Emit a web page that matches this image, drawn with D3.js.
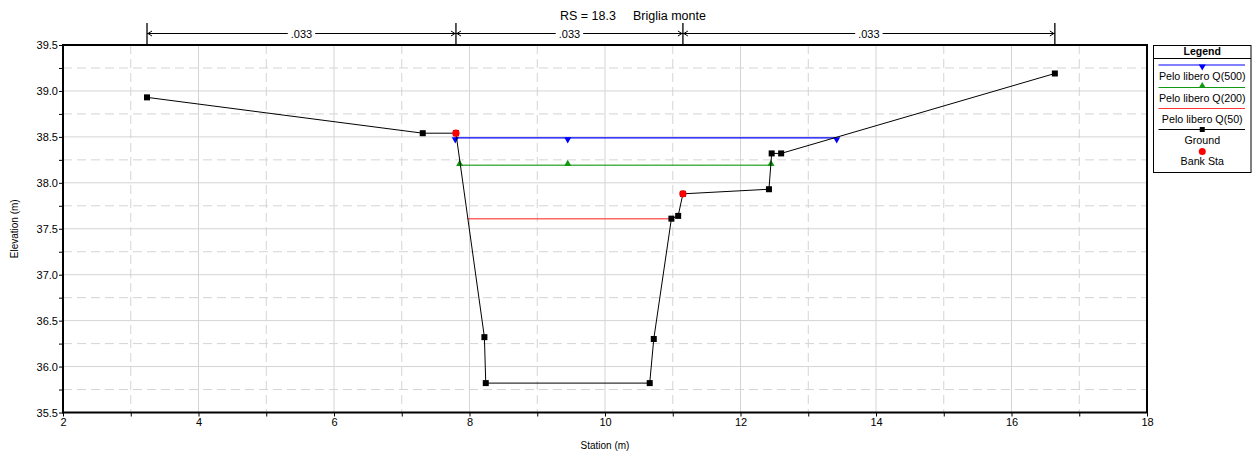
<!DOCTYPE html>
<html><head><meta charset="utf-8">
<script src="https://cdn.jsdelivr.net/npm/d3@7"></script>
<style>
body{margin:0;background:#fff;}
text{font-family:"Liberation Sans",Arial,sans-serif;fill:#000;}
</style></head>
<body><svg id="c" width="1258" height="458"></svg>
<script>
// ---- data ----
const titleParts = ["RS = 18.3", "Briglia monte"];
const groundSta  = [3.24, 7.31, 7.80, 8.22, 8.24, 10.66, 10.72, 10.98, 11.08, 11.15, 12.42, 12.46, 12.60, 16.64];
const groundElev = [38.93, 38.54, 38.54, 36.32, 35.82, 35.82, 36.30, 37.61, 37.64, 37.88, 37.93, 38.32, 38.32, 39.19];
const bankSta  = [7.80, 11.15];
const bankElev = [38.54, 37.88];
const wsNames = ["Pelo libero Q(500)", "Pelo libero Q(200)", "Pelo libero Q(50)"];
const wsElev  = [38.49, 38.19, 37.61];
const wsLeft  = [7.79, 7.855, 7.97];
const wsRight = [13.42, 12.45, 10.98];
const wsMarkSta = [[7.79, 9.45, 13.42], [7.855, 9.45, 12.45], []];
const manningSta = [3.24, 7.80, 11.15, 16.64];
const manningN = [".033", ".033", ".033"];
const xTicks = [2, 4, 6, 8, 10, 12, 14, 16, 18];
const yTicks = [35.5, 36.0, 36.5, 37.0, 37.5, 38.0, 38.5, 39.0, 39.5];

// ---- layout ----
const svg = d3.select("#c");
const L = 63, R = 1147, T = 45, B = 412.5;
const x = d3.scaleLinear().domain([2, 18]).range([L, R]);
const y = d3.scaleLinear().domain([35.5, 39.5]).range([B, T]);
const gridC = "#d4d4d4";

// grid
const g = svg.append("g");
d3.range(3, 18, 2).forEach(v => g.append("line").attr("x1", x(v)).attr("x2", x(v)).attr("y1", T).attr("y2", B)
  .attr("stroke", gridC).attr("stroke-width", 1).attr("stroke-dasharray", "9,5"));
d3.range(35.75, 39.5, 0.5).forEach(v => g.append("line").attr("x1", L).attr("x2", R).attr("y1", y(v)).attr("y2", y(v))
  .attr("stroke", gridC).attr("stroke-width", 1).attr("stroke-dasharray", "9,5"));
xTicks.slice(1, -1).forEach(v => g.append("line").attr("x1", x(v)).attr("x2", x(v)).attr("y1", T).attr("y2", B)
  .attr("stroke", gridC).attr("stroke-width", 1));
yTicks.slice(1, -1).forEach(v => g.append("line").attr("x1", L).attr("x2", R).attr("y1", y(v)).attr("y2", y(v))
  .attr("stroke", gridC).attr("stroke-width", 1));

// axes
const xAx = d3.axisBottom(x).tickValues(xTicks).tickFormat(d3.format("d")).tickSize(4).tickPadding(2);
const xAxMinor = d3.axisBottom(x).tickValues(d3.range(3, 18, 2)).tickFormat("").tickSize(4);
const yAx = d3.axisLeft(y).tickValues(yTicks).tickFormat(d3.format(".1f")).tickSize(4).tickPadding(1);
const yAxMinor = d3.axisLeft(y).tickValues(d3.range(35.75, 39.5, 0.5)).tickFormat("").tickSize(4);
[[xAx, "x"], [xAxMinor, "x"], [yAx, "y"], [yAxMinor, "y"]].forEach(([a, t]) => {
  const ax = svg.append("g").attr("transform", t === "x" ? `translate(0,${B})` : `translate(${L},0)`).call(a);
  ax.select(".domain").remove();
  ax.selectAll("text").attr("font-size", 11).attr("font-family", "Liberation Sans, Arial, sans-serif").attr("fill", "#000");
  ax.selectAll("line").attr("stroke", "#000");
});
svg.append("rect").attr("x", L).attr("y", T).attr("width", R - L).attr("height", B - T)
  .attr("fill", "none").attr("stroke", "#000").attr("stroke-width", 2);

svg.append("text").attr("x", (L + R) / 2).attr("y", 449).attr("text-anchor", "middle").attr("font-size", 10).text("Station (m)");
svg.append("text").attr("transform", `translate(18,${(T + B) / 2}) rotate(-90)`).attr("text-anchor", "middle").attr("font-size", 10).text("Elevation (m)");
svg.append("text").attr("x", 560).attr("y", 20).attr("font-size", 12.5).text(titleParts[0]);
svg.append("text").attr("x", 633).attr("y", 20).attr("font-size", 12.5).text(titleParts[1]);

// manning's n
const mY = 33.5;
const mg = svg.append("g").attr("stroke", "#000").attr("fill", "none").attr("stroke-width", 1);
manningSta.forEach(s => mg.append("line").attr("x1", x(s)).attr("x2", x(s)).attr("y1", 23).attr("y2", T).attr("stroke-width", 1.3));
manningN.forEach((n, i) => {
  const a = x(manningSta[i]), b = x(manningSta[i + 1]), m = (a + b) / 2;
  const tx = svg.append("text").attr("x", m).attr("y", mY + 4).attr("text-anchor", "middle").attr("font-size", 11).text(n);
  const w = tx.node().getComputedTextLength() / 2 + 3;
  mg.append("line").attr("x1", a).attr("x2", m - w).attr("y1", mY).attr("y2", mY);
  mg.append("line").attr("x1", m + w).attr("x2", b).attr("y1", mY).attr("y2", mY);
  mg.append("path").attr("d", `M${a + 5},${mY - 2.5}L${a + 1},${mY}L${a + 5},${mY + 2.5}`);
  mg.append("path").attr("d", `M${b - 5},${mY - 2.5}L${b - 1},${mY}L${b - 5},${mY + 2.5}`);
});

// water surfaces
const wsColors = ["#0000ff", "#119911", "#ff3333"];
const tri = d3.symbol().type(d3.symbolTriangle).size(22);
wsNames.forEach((n, i) => {
  svg.append("line").attr("x1", x(wsLeft[i])).attr("x2", x(wsRight[i])).attr("y1", y(wsElev[i])).attr("y2", y(wsElev[i]))
    .attr("stroke", wsColors[i]).attr("stroke-width", i === 0 ? 1.2 : 1.5).attr("stroke-opacity", i === 0 ? 1 : 0.75);
});
wsMarkSta.forEach((arr, i) => arr.forEach(s => svg.append("path").attr("d", tri)
  .attr("transform", `translate(${x(s)},${y(wsElev[i]) + (i === 0 ? 1.5 : -1.5)}) rotate(${i === 0 ? 180 : 0})`)
  .attr("fill", wsColors[i])));

// ground
const gpts = groundSta.map((s, i) => [s, groundElev[i]]);
svg.append("path").datum(gpts).attr("d", d3.line().x(d => x(d[0])).y(d => y(d[1])))
  .attr("fill", "none").attr("stroke", "#000").attr("stroke-width", 1);
svg.selectAll(".gp").data(gpts).enter().append("rect")
  .attr("x", d => x(d[0]) - 3).attr("y", d => y(d[1]) - 3).attr("width", 6).attr("height", 6).attr("fill", "#000");
bankSta.forEach((s, i) => svg.append("circle").attr("cx", x(s)).attr("cy", y(bankElev[i])).attr("r", 3.6).attr("fill", "#ff0000"));

// legend
const lg = svg.append("g");
const lx = 1153.5, lw = 97.5, ly = 45.5, lh = 127;
lg.append("rect").attr("x", lx).attr("y", ly).attr("width", lw).attr("height", lh).attr("fill", "#fff").attr("stroke", "#000").attr("stroke-width", 1);
lg.append("line").attr("x1", lx).attr("x2", lx + lw).attr("y1", 58.5).attr("y2", 58.5).attr("stroke", "#000");
lg.append("text").attr("x", lx + lw / 2).attr("y", 55).attr("text-anchor", "middle").attr("font-size", 10.5).attr("font-weight", "bold").text("Legend");
const lcx = lx + lw / 2;
const entries = [
  {name: wsNames[0], c: wsColors[0], ly: 65, ty: 80, m: "tdown"},
  {name: wsNames[1], c: wsColors[1], ly: 87.5, ty: 101.5, m: "tup"},
  {name: wsNames[2], c: wsColors[2], ly: 108.5, ty: 122.5, m: null},
  {name: "Ground", c: "#000", ly: 129.5, ty: 143.5, m: "sq"},
];
entries.forEach(e => {
  lg.append("line").attr("x1", lx + 5).attr("x2", lx + lw - 6).attr("y1", e.ly).attr("y2", e.ly).attr("stroke", e.c).attr("stroke-width", 1.2);
  if (e.m === "tdown") lg.append("path").attr("d", tri).attr("transform", `translate(${lcx},${e.ly + 1.5}) rotate(180)`).attr("fill", e.c);
  if (e.m === "tup") lg.append("path").attr("d", tri).attr("transform", `translate(${lcx},${e.ly - 1.5})`).attr("fill", e.c);
  if (e.m === "sq") lg.append("rect").attr("x", lcx - 2.5).attr("y", e.ly - 2.5).attr("width", 5).attr("height", 5).attr("fill", "#000");
  lg.append("text").attr("x", lcx).attr("y", e.ty).attr("text-anchor", "middle").attr("font-size", 10.7).text(e.name);
});
lg.append("circle").attr("cx", lcx).attr("cy", 151.5).attr("r", 3.5).attr("fill", "#ff0000");
lg.append("text").attr("x", lcx).attr("y", 165).attr("text-anchor", "middle").attr("font-size", 10.7).text("Bank Sta");
</script></body></html>
